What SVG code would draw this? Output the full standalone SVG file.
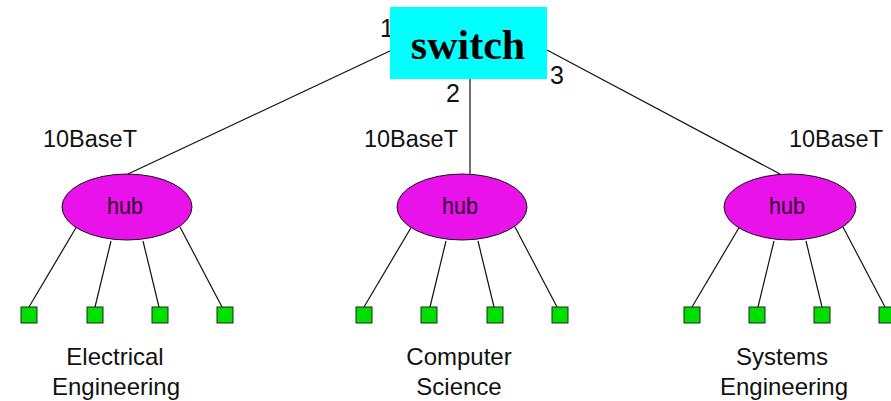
<svg xmlns="http://www.w3.org/2000/svg" width="891" height="401" viewBox="0 0 891 401">
  <style>
    .lbl { font-family: "Liberation Sans", Arial, sans-serif; font-size: 23px; fill: #111; }
    .num { font-family: "Liberation Sans", Arial, sans-serif; font-size: 25px; fill: #111; }
    .hubtxt { font-family: "Liberation Sans", Arial, sans-serif; font-size: 24px; fill: #2a002a; text-anchor: middle; }
    .dept { font-family: "Liberation Sans", Arial, sans-serif; font-size: 24px; fill: #111; text-anchor: middle; }
    .hub { fill: #EA12EA; stroke: #111; stroke-width: 1; }
    .host { fill: #00E000; stroke: #222; stroke-width: 1; }
    .wire { stroke: #111; stroke-width: 1.2; fill: none; }
  </style>
  <rect width="891" height="401" fill="#ffffff"/>

  <!-- connectors -->
  <g id="connectors" class="wire">
    <line x1="392" y1="50" x2="128" y2="174"/>
    <line x1="470" y1="79" x2="470" y2="175"/>
    <line x1="547" y1="50" x2="780" y2="174"/>
    <!-- hub 1 drops -->
    <line x1="77" y1="226" x2="29" y2="307"/>
    <line x1="111" y1="241" x2="95" y2="307"/>
    <line x1="143" y1="241" x2="159" y2="307"/>
    <line x1="180" y1="227" x2="222" y2="307"/>
    <!-- hub 2 drops -->
    <line x1="412" y1="226" x2="364" y2="307"/>
    <line x1="446" y1="241" x2="430" y2="307"/>
    <line x1="478" y1="241" x2="494" y2="307"/>
    <line x1="515" y1="227" x2="557" y2="307"/>
    <!-- hub 3 drops -->
    <line x1="740" y1="226" x2="692" y2="307"/>
    <line x1="774" y1="241" x2="758" y2="307"/>
    <line x1="806" y1="241" x2="822" y2="307"/>
    <line x1="843" y1="227" x2="885" y2="307"/>
  </g>

  <!-- port numbers -->
  <text class="num" x="380" y="37">1</text>
  <text class="num" x="446" y="102">2</text>
  <text class="num" x="550" y="84">3</text>

  <g id="switch">
    <rect x="390" y="7" width="157" height="72" fill="#00FFFF"/>
    <text x="468" y="59" font-family="Liberation Serif, Times New Roman, serif" font-size="42" font-weight="bold" text-anchor="middle" fill="#000">switch</text>
  </g>

  <g id="hub1">
    <text class="lbl" x="43" y="147" textLength="94" lengthAdjust="spacingAndGlyphs">10BaseT</text>
    <ellipse class="hub" cx="127" cy="207" rx="65" ry="33"/>
    <text class="hubtxt" x="125" y="214" textLength="36" lengthAdjust="spacingAndGlyphs">hub</text>
  </g>
  <g id="hub2">
    <text class="lbl" x="364" y="147" textLength="94" lengthAdjust="spacingAndGlyphs">10BaseT</text>
    <ellipse class="hub" cx="462" cy="207" rx="65" ry="33"/>
    <text class="hubtxt" x="460" y="214" textLength="36" lengthAdjust="spacingAndGlyphs">hub</text>
  </g>
  <g id="hub3">
    <text class="lbl" x="789" y="147" textLength="94" lengthAdjust="spacingAndGlyphs">10BaseT</text>
    <ellipse class="hub" cx="790" cy="207" rx="66" ry="33"/>
    <text class="hubtxt" x="787" y="214" textLength="36" lengthAdjust="spacingAndGlyphs">hub</text>
  </g>

  <g id="hosts1">
    <rect class="host" x="21" y="307" width="16" height="16"/>
    <rect class="host" x="87" y="307" width="16" height="16"/>
    <rect class="host" x="152" y="307" width="16" height="16"/>
    <rect class="host" x="217" y="307" width="16" height="16"/>
  </g>
  <g id="hosts2">
    <rect class="host" x="356" y="307" width="16" height="16"/>
    <rect class="host" x="421" y="307" width="16" height="16"/>
    <rect class="host" x="487" y="307" width="16" height="16"/>
    <rect class="host" x="552" y="307" width="16" height="16"/>
  </g>
  <g id="hosts3">
    <rect class="host" x="684" y="307" width="16" height="16"/>
    <rect class="host" x="749" y="307" width="16" height="16"/>
    <rect class="host" x="814" y="307" width="16" height="16"/>
    <rect class="host" x="879" y="307" width="16" height="16"/>
  </g>

  <g id="labels">
    <text class="dept" x="115" y="365">Electrical</text>
    <text class="dept" x="116" y="395">Engineering</text>
    <text class="dept" x="459" y="365">Computer</text>
    <text class="dept" x="459" y="395">Science</text>
    <text class="dept" x="782" y="365">Systems</text>
    <text class="dept" x="784" y="395">Engineering</text>
  </g>
</svg>
